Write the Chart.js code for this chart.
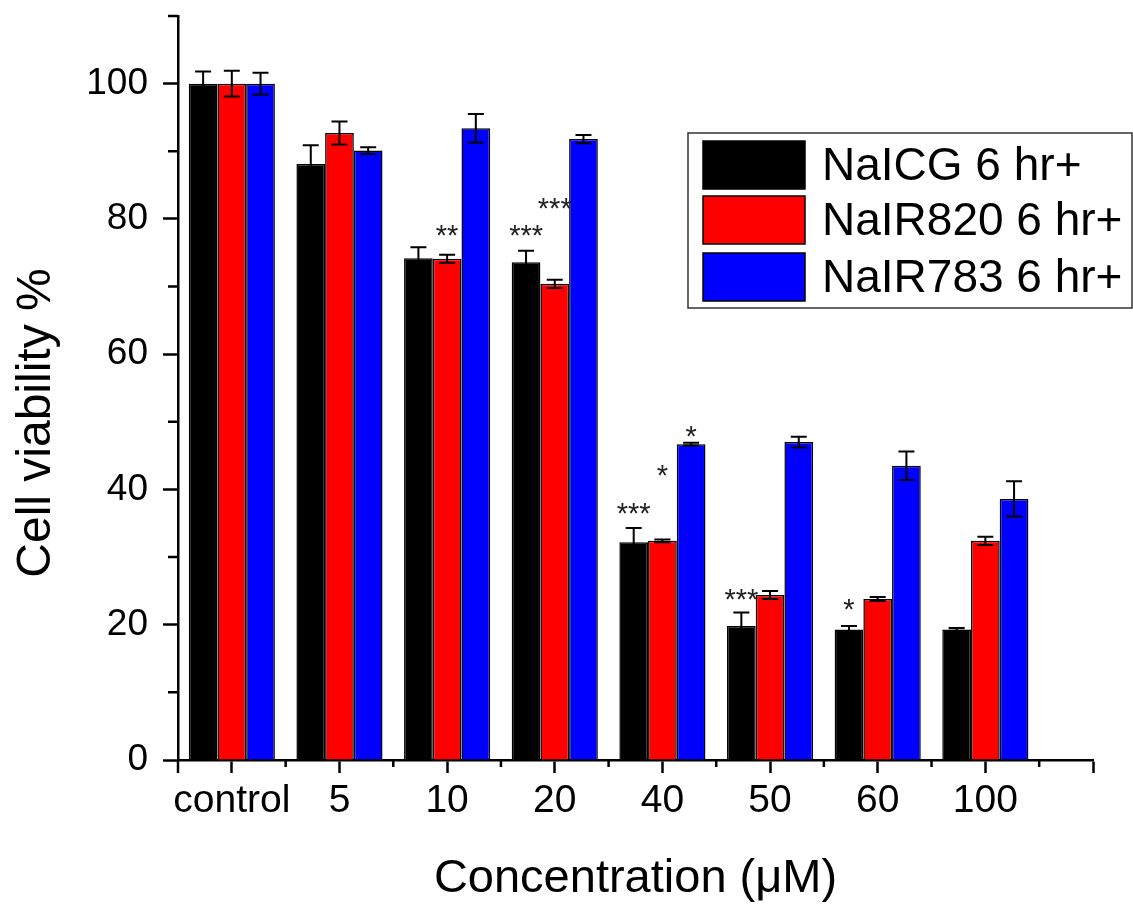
<!DOCTYPE html>
<html>
<head>
<meta charset="utf-8">
<script src="https://cdn.jsdelivr.net/npm/chart.js@4.4.0/dist/chart.umd.min.js"></script>
<style>
  html, body { margin: 0; padding: 0; background: #fff; }
  canvas { display: block; }
</style>
</head>
<body>
<canvas id="chart" width="1133" height="905"></canvas>
<script>
// data
const categories = ['control', '5', '10', '20', '40', '50', '60', '100'];
const seriesNames = ['NaICG 6 hr+', 'NaIR820 6 hr+', 'NaIR783 6 hr+'];

const icg      = [100, 88.1, 74.2, 73.6, 32.2, 19.8, 19.3, 19.3];
const icgErr   = [1.8, 2.8, 1.6, 1.7, 2.1, 2.0, 0.5, 0.2];
const ir820    = [100, 92.7, 74.1, 70.4, 32.4, 24.4, 23.8, 32.4];
const ir820Err = [1.9, 1.7, 0.6, 0.6, 0.2, 0.6, 0.3, 0.6];
const ir783    = [100, 90.1, 93.4, 91.8, 46.7, 47.0, 43.5, 38.6];
const ir783Err = [1.6, 0.5, 2.1, 0.6, 0.2, 0.8, 2.1, 2.6];

// significance marks and the height (in % units) they sit at
const icgSig     = ['', '', '', '***', '***', '***', '*', ''];
const icgSigY    = [0, 0, 0, 78.6, 37.6, 24.9, 23.4, 0];
const ir820Sig   = ['', '', '**', '***', '*', '', '', ''];
const ir820SigY  = [0, 0, 78.7, 82.7, 43.2, 0, 0, 0];
const ir783Sig   = ['', '', '', '', '*', '', '', ''];
const ir783SigY  = [0, 0, 0, 0, 49.0, 0, 0, 0];

const yTicks = [0, 20, 40, 60, 80, 100];

const FONT = '"Liberation Sans", Arial, Helvetica, sans-serif';
const colors = ['#000000', '#ff0000', '#0000ff'];

const values = [icg, ir820, ir783];
const errors = [icgErr, ir820Err, ir783Err];
const sigs = [icgSig, ir820Sig, ir783Sig];
const sigYs = [icgSigY, ir820SigY, ir783SigY];

const errorBars = {
  id: 'errorBars',
  afterDatasetsDraw(chart) {
    const ctx = chart.ctx;
    const ys = chart.scales.y;
    ctx.save();
    ctx.strokeStyle = '#000';
    ctx.lineWidth = 2;
    chart.data.datasets.forEach((ds, d) => {
      const meta = chart.getDatasetMeta(d);
      meta.data.forEach((bar, i) => {
        const v = values[d][i], e = errors[d][i];
        const top = ys.getPixelForValue(v + e);
        const bot = ys.getPixelForValue(v - e);
        ctx.beginPath();
        ctx.moveTo(bar.x, top); ctx.lineTo(bar.x, bot);
        ctx.moveTo(bar.x - 8, top); ctx.lineTo(bar.x + 8, top);
        ctx.moveTo(bar.x - 8, bot); ctx.lineTo(bar.x + 8, bot);
        ctx.stroke();
      });
    });
    // asterisks
    ctx.fillStyle = '#222';
    ctx.font = '29px ' + FONT;
    ctx.textAlign = 'center';
    ctx.textBaseline = 'alphabetic';
    chart.data.datasets.forEach((ds, d) => {
      const meta = chart.getDatasetMeta(d);
      meta.data.forEach((bar, i) => {
        const s = sigs[d][i];
        if (!s) return;
        const y = ys.getPixelForValue(sigYs[d][i]);
        ctx.fillText(s, bar.x, y + 17);
      });
    });
    ctx.restore();
  }
};

const extras = {
  id: 'extras',
  afterDraw(chart) {
    const ctx = chart.ctx;
    const a = chart.chartArea;
    const xs = chart.scales.x, ys = chart.scales.y;
    ctx.save();
    ctx.strokeStyle = '#000';
    ctx.lineWidth = 2.5;
    ctx.beginPath();
    // minor x ticks
    for (let i = 0; i < categories.length; i++) {
      const px = xs.getPixelForValue(i + 0.5);
      ctx.moveTo(px, a.bottom); ctx.lineTo(px, a.bottom + 7);
    }
    // y axis runs slightly below the x axis
    ctx.moveTo(a.left, a.bottom); ctx.lineTo(a.left, a.bottom + 13);
    // minor y ticks
    for (let v = 10; v <= 110; v += 20) {
      const py = ys.getPixelForValue(v);
      ctx.moveTo(a.left - 10, py); ctx.lineTo(a.left, py);
    }
    ctx.stroke();

    // y axis title
    ctx.fillStyle = '#000';
    ctx.font = '48px ' + FONT;
    ctx.textAlign = 'center';
    ctx.textBaseline = 'middle';
    ctx.translate(37, 423);
    ctx.rotate(-Math.PI / 2);
    ctx.fillText('Cell viability %', 0, 0);
    ctx.setTransform(1, 0, 0, 1, 0, 0);

    // legend box
    const bx = 688, by = 133, bw = 444, bh = 175;
    ctx.fillStyle = '#fff';
    ctx.fillRect(bx, by, bw, bh);
    ctx.strokeStyle = '#333';
    ctx.lineWidth = 1.5;
    ctx.strokeRect(bx, by, bw, bh);
    const rowsY = [141, 196, 253];
    ctx.font = '46px ' + FONT;
    ctx.textAlign = 'left';
    ctx.textBaseline = 'middle';
    chart.data.datasets.forEach((ds, d) => {
      ctx.fillStyle = ds.backgroundColor;
      ctx.fillRect(703, rowsY[d], 102, 48);
      ctx.strokeStyle = '#000';
      ctx.strokeRect(703, rowsY[d], 102, 48);
      ctx.fillStyle = '#000';
      ctx.fillText(ds.label, 822, rowsY[d] + 26);
    });
    ctx.restore();
  }
};

new Chart(document.getElementById('chart'), {
  type: 'bar',
  data: {
    datasets: values.map((vals, d) => ({
      label: seriesNames[d],
      data: vals.map((v, i) => ({ x: i, y: v })),
      backgroundColor: colors[d],
      borderColor: '#000',
      borderWidth: 1.5,
      categoryPercentage: 0.8,
      barPercentage: 1.0
    }))
  },
  options: {
    responsive: false,
    animation: false,
    layout: { padding: { top: 16, right: 40, left: 0, bottom: 0 } },
    plugins: {
      legend: { display: false },
      tooltip: { enabled: false }
    },
    scales: {
      x: {
        type: 'linear',
        min: -0.5,
        max: 8,
        offset: false,
        afterBuildTicks(scale) {
          scale.ticks = [];
          for (let i = 0; i <= categories.length; i++) scale.ticks.push({ value: i });
        },
        afterFit(scale) {
          scale.height = 145;
          scale.paddingLeft = 0; scale.paddingRight = 0;
        },
        grid: { offset: false, drawOnChartArea: false, tickLength: 13, tickWidth: 2.5, tickColor: '#000' },
        border: { color: '#000', width: 2.5 },
        ticks: {
          color: '#000',
          padding: 5,
          maxRotation: 0,
          autoSkip: false,
          font: { family: FONT, size: 39 },
          callback: (v) => (v < categories.length ? categories[v] : '')
        },
        title: {
          display: true,
          text: 'Concentration (\u03bcM)',
          color: '#000',
          font: { family: FONT, size: 47, lineHeight: 1.1 },
          padding: { top: 0, bottom: 0 }
        }
      },
      y: {
        min: 0,
        max: 110,
        afterBuildTicks(scale) {
          scale.ticks = yTicks.map(v => ({ value: v }));
        },
        afterFit(scale) {
          scale.width = 178;
          scale.paddingTop = 0; scale.paddingBottom = 0;
        },
        grid: { drawOnChartArea: false, tickLength: 15, tickWidth: 2.5, tickColor: '#000' },
        border: { color: '#000', width: 2.5 },
        ticks: {
          color: '#000',
          padding: 15,
          font: { family: FONT, size: 37 }
        }
      }
    }
  },
  plugins: [errorBars, extras]
});
</script>
</body>
</html>
